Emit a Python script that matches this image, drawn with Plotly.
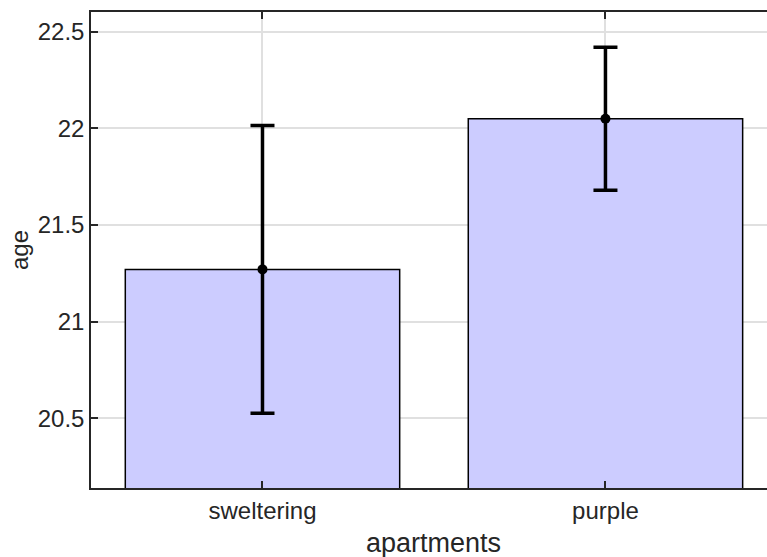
import plotly.graph_objects as go

# mean age per apartment group, with symmetric error half-widths
categories = ["sweltering", "purple"]
age_mean = [21.27, 22.05]
age_err = [0.745, 0.37]
x_title = "apartments"
y_title = "age"

fig = go.Figure()

fig.add_trace(go.Bar(
    x=categories,
    y=age_mean,
    width=0.8,
    marker=dict(color="#ccccff", line=dict(color="black", width=1.5)),
    showlegend=False,
    hoverinfo="skip",
))

fig.add_trace(go.Scatter(
    x=categories,
    y=age_mean,
    mode="markers",
    marker=dict(color="black", size=10),
    error_y=dict(type="data", array=age_err, visible=True,
                 color="black", thickness=3.5, width=12),
    showlegend=False,
))

family = "Liberation Sans, Arial, sans-serif"
text_color = "#262626"
tick_font = dict(family=family, size=24, color=text_color)
xtitle_font = dict(family=family, size=27, color=text_color)
ytitle_font = dict(family=family, size=24, color=text_color)

# x-axis title centred between the two categories
fig.add_annotation(
    text=x_title, x=0.5, xref="x", y=0, yref="paper",
    yanchor="middle", yshift=-55, showarrow=False, font=xtitle_font,
)

fig.update_layout(
    width=767,
    height=557,
    margin=dict(l=91, r=0, t=12, b=69),
    plot_bgcolor="white",
    paper_bgcolor="white",
    font=tick_font,
    xaxis=dict(
        type="category",
        range=[-0.5, 1.471],
        showline=True, linecolor=text_color, linewidth=1.5,
        mirror="allticks",
        ticks="inside", ticklen=7, tickcolor=text_color, tickwidth=1.5,
        showgrid=True, gridcolor="#e0e0e0", gridwidth=1.5,
        tickfont=tick_font,
    ),
    yaxis=dict(
        range=[20.138, 22.603],
        tickvals=[20.5, 21, 21.5, 22, 22.5],
        ticktext=["20.5", "21", "21.5", "22", "22.5"],
        showline=True, linecolor=text_color, linewidth=1.5,
        mirror=False,
        ticks="inside", ticklen=7, tickcolor=text_color, tickwidth=1.5,
        showgrid=True, gridcolor="#e0e0e0", gridwidth=1.5,
        zeroline=False,
        tickfont=tick_font,
        title=dict(text=y_title, font=ytitle_font, standoff=2),
    ),
)

fig.write_html("out.html")
